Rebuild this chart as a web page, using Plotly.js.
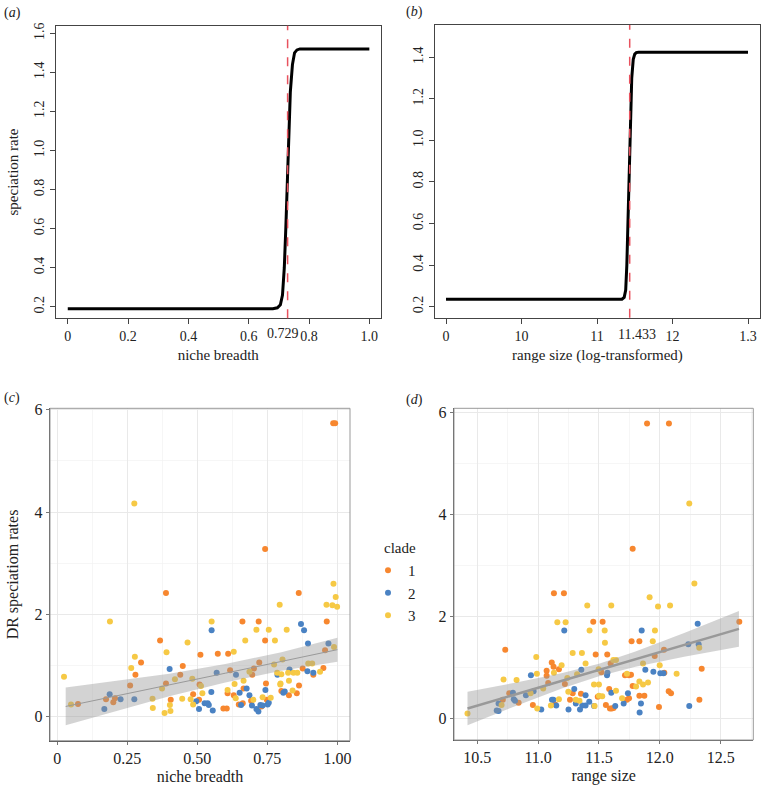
<!DOCTYPE html>
<html>
<head>
<meta charset="utf-8">
<script src="https://cdn.plot.ly/plotly-3.0.1.min.js"></script>
<style>
  html, body { margin: 0; padding: 0; background: #fff; }
  #chart { width: 765px; height: 785px; }
</style>
</head>
<body>
<div id="chart"></div>
<script>
// (a) speciation rate vs niche breadth
var nicheA = [0, 0.68, 0.695, 0.705, 0.712, 0.718, 0.723, 0.728, 0.733, 0.738, 0.745, 0.752, 0.76, 0.77, 0.78, 1.0];
var rateA  = [0.19, 0.19, 0.195, 0.21, 0.26, 0.40, 0.60, 0.85, 1.10, 1.30, 1.44, 1.50, 1.515, 1.52, 1.52, 1.52];
var threshA = 0.729;

// (b) speciation rate vs range size (log-transformed)
var rangeB = [9, 11.33, 11.36, 11.38, 11.395, 11.41, 11.425, 11.44, 11.46, 11.48, 11.50, 11.52, 11.55, 13];
var rateB  = [0.236, 0.236, 0.245, 0.28, 0.40, 0.60, 0.85, 1.10, 1.30, 1.39, 1.415, 1.422, 1.424, 1.424];
var threshB = 11.433;
var tickValsB = [9, 10, 11, 12, 13];
var tickTextB = ['0', '10', '11', '12', '1.3'];

// (c) DR speciation rates vs niche breadth, by clade
var c1x = [0.985,0.992,0.742,0.388,0.862,0.661,0.719,0.962,0.367,0.742,0.956,0.573,0.610,0.511,0.299,0.721,0.448,0.702,0.617,0.876,0.950,0.914,0.279,0.439,0.696,0.745,0.388,0.260,0.508,0.863,0.665,0.800,0.608,0.485,0.855,0.630,0.827,0.174,0.206,0.405,0.506,0.200,0.074,0.692,0.748,0.648,0.662,0.729,0.593,0.605];
var c1y = [5.74,5.74,3.28,2.42,2.42,1.86,1.86,1.86,1.49,1.49,1.30,1.23,1.23,1.21,1.06,1.06,0.99,0.94,0.91,0.94,0.95,0.82,0.82,0.82,0.82,0.65,0.65,0.61,0.63,0.61,0.55,0.50,0.46,0.44,0.46,0.42,0.42,0.34,0.36,0.33,0.33,0.28,0.25,0.31,0.33,0.24,0.26,0.20,0.16,0.16];
var c2x = [0.551,0.870,0.881,0.895,0.968,0.401,0.829,0.893,0.914,0.569,0.638,0.786,0.676,0.743,0.807,0.550,0.651,0.686,0.187,0.226,0.275,0.496,0.526,0.537,0.541,0.656,0.695,0.725,0.733,0.751,0.755,0.168,0.506,0.711,0.555,0.718,0.812];
var c2y = [1.69,1.81,1.69,1.43,1.43,0.93,0.92,0.89,0.86,0.86,0.82,0.82,0.55,0.52,0.47,0.48,0.47,0.42,0.44,0.34,0.34,0.30,0.26,0.26,0.23,0.23,0.22,0.23,0.22,0.24,0.27,0.15,0.15,0.15,0.12,0.10,0.49];
var c3x = [0.275,0.986,0.994,0.961,0.982,0.999,0.794,0.188,0.551,0.711,0.755,0.819,0.465,0.671,0.777,0.988,0.390,0.630,0.277,0.804,0.774,0.264,0.896,0.910,0.938,0.024,0.686,0.785,0.800,0.824,0.843,0.857,0.482,0.420,0.665,0.827,0.513,0.633,0.796,0.374,0.608,0.840,0.518,0.733,0.762,0.637,0.340,0.446,0.476,0.049,0.700,0.485,0.402,0.341,0.404,0.383,0.797];
var c3y = [4.17,2.60,2.34,2.19,2.18,2.15,2.19,1.86,1.86,1.70,1.70,1.70,1.45,1.49,1.49,1.36,1.26,1.27,1.17,1.12,1.02,0.95,1.04,1.04,0.88,0.78,0.88,0.86,0.83,0.86,0.86,0.86,0.74,0.73,0.70,0.70,0.60,0.64,0.63,0.55,0.52,0.51,0.46,0.38,0.37,0.36,0.35,0.35,0.34,0.24,0.33,0.24,0.23,0.17,0.11,0.07,0.65];
var fitCx  = [0.03, 0.2, 0.4, 0.6, 0.8, 1.0];
var fitCy  = [0.20, 0.39, 0.62, 0.85, 1.08, 1.31];
var fitCup = [0.57, 0.69, 0.84, 1.03, 1.26, 1.545];
var fitClo = [-0.17, 0.09, 0.40, 0.67, 0.90, 1.075];

// (d) DR speciation rates vs range size, by clade
var d1x = [11.895,12.075,11.777,11.130,11.212,11.453,11.530,12.653,11.768,11.832,10.730,12.034,11.473,11.568,11.958,11.112,11.596,11.127,11.171,11.070,12.344,11.52,12.037,11.07,11.714,11.747,11.763,11.22,11.777,11.584,12.073,12.092,11.284,11.352,10.763,11.832,11.873,11.49,10.71,10.84,11.262,11.73,11.747,12.325,10.957,11.14,11.557,11.59,11.605,11.62,11.993,11.083];
var d1y = [5.79,5.79,3.33,2.46,2.46,1.90,1.90,1.90,1.52,1.52,1.35,1.35,1.26,1.26,1.23,1.10,1.08,1.02,0.97,0.94,0.98,0.91,0.90,0.84,0.85,0.85,0.86,0.68,0.64,0.58,0.54,0.50,0.50,0.49,0.50,0.45,0.45,0.43,0.37,0.31,0.37,0.37,0.40,0.37,0.27,0.28,0.27,0.20,0.20,0.21,0.23,0.70];
var d2x = [11.215,11.851,12.311,12.234,12.319,11.355,11.881,11.947,12.004,12.03,10.941,11.566,11.297,10.793,10.963,11.738,11.601,10.9,11.39,10.8,10.81,11.114,11.125,11.42,11.31,11.703,11.845,10.675,11.149,11.363,11.39,11.46,11.634,11.344,11.25,11.026,12.242,10.66,10.675,11.834,11.57];
var d2y = [1.73,1.73,1.86,1.46,1.46,0.96,0.96,0.92,0.89,0.89,0.85,0.85,0.58,0.51,0.54,0.50,0.51,0.46,0.46,0.38,0.35,0.37,0.37,0.33,0.30,0.30,0.30,0.30,0.26,0.26,0.26,0.25,0.25,0.18,0.18,0.18,0.25,0.16,0.15,0.12,0.90];
var d3x = [12.242,12.284,11.916,11.404,11.601,11.985,12.084,11.158,11.226,11.423,11.547,11.960,11.942,11.549,12.324,11.284,11.360,10.985,11.618,11.64,11.390,11.862,11.999,11.193,11.497,12.138,11.13,10.99,11.32,11.73,10.716,10.823,11.832,11.903,11.24,11.459,11.5,11.862,11.805,11.042,10.938,11.64,11.248,11.5,11.527,11.171,11.31,11.34,11.69,10.7,11.105,11.464,10.993,10.42];
var d3y = [4.22,2.65,2.38,2.22,2.22,2.20,2.22,1.89,1.89,1.73,1.73,1.73,1.52,1.49,1.39,1.29,1.29,1.21,1.15,1.15,1.08,1.08,1.05,1.05,0.97,0.88,0.90,0.88,0.87,0.88,0.77,0.76,0.73,0.71,0.80,0.67,0.67,0.67,0.63,0.59,0.50,0.55,0.53,0.45,0.44,0.38,0.37,0.35,0.40,0.27,0.26,0.25,0.20,0.10];
var fitDx  = [10.42, 10.8, 11.2, 11.5, 11.8, 12.2, 12.65];
var fitDy  = [0.20, 0.466, 0.746, 0.956, 1.166, 1.446, 1.76];
var fitDup = [0.53, 0.70, 0.895, 1.078, 1.315, 1.68, 2.11];
var fitDlo = [-0.13, 0.233, 0.597, 0.834, 1.017, 1.213, 1.41];

var clades = ['1', '2', '3'];
var cladeCols = ['#f7872f', '#4a82c3', '#f6c945'];

var serif = 'Liberation Serif, Times New Roman, serif';
var W = 765, H = 785;

function px(x) { return x / W; }
function py(y) { return 1 - y / H; }

function pointsTrace(xs, ys, i, xa, ya, show) {
  return {
    x: xs, y: ys, xaxis: xa, yaxis: ya,
    type: 'scatter', mode: 'markers',
    name: clades[i], showlegend: show,
    marker: {color: cladeCols[i], size: 6}
  };
}

function bandTraces(xs, lo, hi, mid, xa, ya, lw) {
  return [
    {x: xs, y: lo, xaxis: xa, yaxis: ya, type: 'scatter', mode: 'lines',
     line: {width: 0, color: 'rgba(0,0,0,0)'}, showlegend: false, hoverinfo: 'skip'},
    {x: xs, y: hi, xaxis: xa, yaxis: ya, type: 'scatter', mode: 'lines', fill: 'tonexty',
     fillcolor: 'rgba(150,150,150,0.42)', line: {width: 0, color: 'rgba(0,0,0,0)'},
     showlegend: false, hoverinfo: 'skip'},
    {x: xs, y: mid, xaxis: xa, yaxis: ya, type: 'scatter', mode: 'lines',
     line: {color: '#999999', width: lw}, showlegend: false}
  ];
}

var data = [
  {x: nicheA, y: rateA, xaxis: 'x', yaxis: 'y', type: 'scatter', mode: 'lines',
   line: {color: '#000', width: 3}, showlegend: false},
  {x: rangeB, y: rateB, xaxis: 'x2', yaxis: 'y2', type: 'scatter', mode: 'lines',
   line: {color: '#000', width: 3}, showlegend: false},
  pointsTrace(c1x, c1y, 0, 'x3', 'y3', false),
  pointsTrace(c2x, c2y, 1, 'x3', 'y3', false),
  pointsTrace(c3x, c3y, 2, 'x3', 'y3', false),
  pointsTrace(d1x, d1y, 0, 'x4', 'y4', true),
  pointsTrace(d2x, d2y, 1, 'x4', 'y4', true),
  pointsTrace(d3x, d3y, 2, 'x4', 'y4', true)
].concat(bandTraces(fitCx, fitClo, fitCup, fitCy, 'x3', 'y3', 1))
 .concat(bandTraces(fitDx, fitDlo, fitDup, fitDy, 'x4', 'y4', 2.5));

// base-graphics style axes for the top row
function baseAxis(extra) {
  var ax = {
    showgrid: false, zeroline: false, showline: true, mirror: true,
    linecolor: '#444', linewidth: 1, ticks: 'outside', ticklen: 5,
    tickcolor: '#444', tickfont: {family: serif, size: 14, color: '#222'},
    title: {font: {family: serif, size: 15, color: '#222'}}
  };
  for (var k in extra) ax[k] = extra[k];
  return ax;
}

// ggplot style axes for the bottom row
function ggAxis(extra) {
  var ax = {
    showgrid: true, gridcolor: '#e9e9e9', gridwidth: 1, zeroline: false,
    showline: true, linecolor: '#555', linewidth: 1.2, ticks: 'outside', ticklen: 3,
    tickcolor: '#777', tickfont: {family: serif, size: 16, color: '#222'},
    title: {font: {family: serif, size: 16, color: '#222'}}
  };
  for (var k in extra) ax[k] = extra[k];
  return ax;
}

var layout = {
  width: W, height: H, autosize: false,
  margin: {l: 0, r: 0, t: 0, b: 0},
  paper_bgcolor: '#fff', plot_bgcolor: '#fff',
  font: {family: serif, color: '#222'},
  xaxis: baseAxis({domain: [px(56), px(380.5)], range: [-0.039, 1.037], anchor: 'y',
    tickmode: 'array', tickvals: [0, 0.2, 0.4, 0.6, 0.8, 1.0],
    ticktext: ['0', '0.2', '0.4', '0.6', '0.8', '1.0'], tickangle: 0,
    title: {text: 'niche breadth', standoff: 6, font: {family: serif, size: 15, color: '#222'}}}),
  yaxis: baseAxis({domain: [py(318.3), py(25.7)], range: [0.141, 1.639], anchor: 'x',
    tickmode: 'array', tickvals: [0.2, 0.4, 0.6, 0.8, 1.0, 1.2, 1.4, 1.6],
    ticktext: ['0.2', '0.4', '0.6', '0.8', '1.0', '1.2', '1.4', '1.6'], tickangle: -90,
    title: {text: 'speciation rate', standoff: 10, font: {family: serif, size: 15, color: '#222'}}}),
  xaxis2: baseAxis({domain: [px(435), px(760)], range: [8.854, 13.159], anchor: 'y2',
    tickmode: 'array', tickvals: tickValsB, ticktext: tickTextB, tickangle: 0,
    title: {text: 'range size (log-transformed)', standoff: 6, font: {family: serif, size: 15, color: '#222'}}}),
  yaxis2: baseAxis({domain: [py(317.7), py(25)], range: [0.147, 1.555], anchor: 'x2',
    tickmode: 'array', tickvals: [0.2, 0.4, 0.6, 0.8, 1.0, 1.2, 1.4],
    ticktext: ['0.2', '0.4', '0.6', '0.8', '1.0', '1.2', '1.4'], tickangle: -90}),
  xaxis3: ggAxis({domain: [px(50), px(350)], range: [-0.026, 1.045], anchor: 'y3',
    tickmode: 'array', tickvals: [0, 0.25, 0.5, 0.75, 1.0],
    ticktext: ['0', '0.25', '0.50', '0.75', '1.00'], tickangle: 0,
    minor: {tickmode: 'linear', tick0: 0, dtick: 0.125, showgrid: true, gridcolor: '#f2f2f2', gridwidth: 0.7, ticks: ''},
    title: {text: 'niche breadth', standoff: 9, font: {family: serif, size: 16, color: '#222'}}}),
  yaxis3: ggAxis({domain: [py(740.7), py(408.3)], range: [-0.47, 6.03], anchor: 'x3',
    tickmode: 'array', tickvals: [0, 2, 4, 6], ticktext: ['0', '2', '4', '6'],
    minor: {tickmode: 'linear', tick0: 0, dtick: 1, showgrid: true, gridcolor: '#f2f2f2', gridwidth: 0.7, ticks: ''},
    title: {text: 'DR speciatiom rates', standoff: 12, font: {family: serif, size: 16, color: '#222'}}}),
  xaxis4: ggAxis({domain: [px(454), px(753.3)], range: [10.309, 12.768], anchor: 'y4',
    tickmode: 'linear', tick0: 10.5, dtick: 0.5, tickformat: '.1f', tickangle: 0,
    minor: {tickmode: 'linear', tick0: 10.5, dtick: 0.25, showgrid: true, gridcolor: '#f2f2f2', gridwidth: 0.7, ticks: ''},
    title: {text: 'range size', standoff: 8, font: {family: serif, size: 16, color: '#222'}}}),
  yaxis4: ggAxis({domain: [py(740), py(408.3)], range: [-0.418, 6.086], anchor: 'x4',
    tickmode: 'array', tickvals: [0, 2, 4, 6], ticktext: ['0', '2', '4', '6'],
    minor: {tickmode: 'linear', tick0: 0, dtick: 1, showgrid: true, gridcolor: '#f2f2f2', gridwidth: 0.7, ticks: ''}}),
  showlegend: true,
  legend: {
    x: px(368), y: py(554), xanchor: 'left', yanchor: 'top', traceorder: 'normal',
    font: {family: serif, size: 15, color: '#222'},
    bgcolor: 'rgba(0,0,0,0)', itemwidth: 30, tracegroupgap: 0, itemsizing: 'trace'
  },
  shapes: [
    {type: 'line', xref: 'x', yref: 'y domain', x0: threshA, x1: threshA, y0: 0, y1: 1,
     line: {color: '#e8525e', width: 1.5, dash: 'dash'}},
    {type: 'line', xref: 'x2', yref: 'y2 domain', x0: threshB, x1: threshB, y0: 0, y1: 1,
     line: {color: '#e8525e', width: 1.5, dash: 'dash'}},
    {type: 'rect', xref: 'x3 domain', yref: 'y3 domain', x0: 0, x1: 1, y0: 0, y1: 1,
     line: {color: '#999', width: 1}, layer: 'above'},
    {type: 'rect', xref: 'x4 domain', yref: 'y4 domain', x0: 0, x1: 1, y0: 0, y1: 1,
     line: {color: '#999', width: 1}, layer: 'above'}
  ],
  annotations: [
    {text: '(<i>a</i>)', xref: 'paper', yref: 'paper', x: px(2), y: py(13), xanchor: 'left', yanchor: 'middle',
     showarrow: false, font: {family: serif, size: 14, color: '#222'}},
    {text: '(<i>b</i>)', xref: 'paper', yref: 'paper', x: px(404), y: py(12), xanchor: 'left', yanchor: 'middle',
     showarrow: false, font: {family: serif, size: 14, color: '#222'}},
    {text: '(<i>c</i>)', xref: 'paper', yref: 'paper', x: px(2), y: py(398), xanchor: 'left', yanchor: 'middle',
     showarrow: false, font: {family: serif, size: 14, color: '#222'}},
    {text: '(<i>d</i>)', xref: 'paper', yref: 'paper', x: px(404), y: py(400), xanchor: 'left', yanchor: 'middle',
     showarrow: false, font: {family: serif, size: 14, color: '#222'}},
    {text: 'clade', xref: 'paper', yref: 'paper', x: px(382), y: py(548), xanchor: 'left', yanchor: 'middle',
     showarrow: false, font: {family: serif, size: 15, color: '#222'}},
    {text: String(threshA), xref: 'x', yref: 'paper', x: threshA, xshift: -5, y: py(333), yanchor: 'middle',
     showarrow: false, font: {family: serif, size: 14, color: '#222'}},
    {text: String(threshB), xref: 'x2', yref: 'paper', x: threshB, xshift: 7, y: py(334), yanchor: 'middle',
     showarrow: false, font: {family: serif, size: 14, color: '#222'}}
  ]
};

Plotly.newPlot('chart', data, layout, {staticPlot: true});
</script>
</body>
</html>
